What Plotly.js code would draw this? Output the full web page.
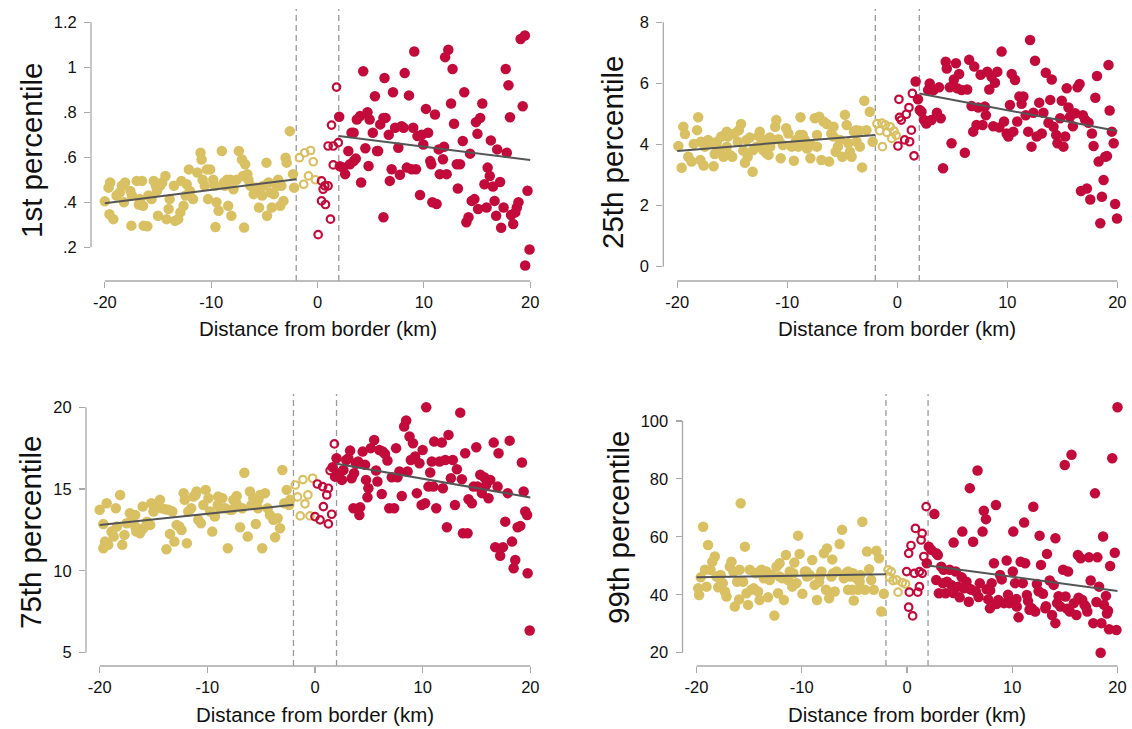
<!DOCTYPE html>
<html>
<head>
<meta charset="utf-8">
<script src="https://cdn.plot.ly/plotly-3.0.1.min.js"></script>
<style>
html,body{margin:0;padding:0;background:#fff;}
#chart{width:1132px;height:729px;}
</style>
</head>
<body>
<div id="chart"></div>
<script>
// ---------------- DATA ----------------
// Panel 1: 1st percentile
const p1GoldX = [-20,-19.65,-19.5,-19.56,-19.2,-18.9,-18.4,-18.1,-18.2,-17.5,-17.45,-17.0,-16.5,-16.8,-16.4,-16.35,-16.0,-15.9,-15.4,-15.6,-15.1,-14.8,-15.0,-14.6,-14.3,-14.0,-13.9,-14.2,-13.4,-13.1,-12.9,-12.6,-12.8,-12.3,-12.1,-11.7,-12.0,-11.3,-11.0,-10.9,-10.6,-10.4,-10.3,-10.1,-9.8,-9.5,-9.3,-9.6,-9.0,-8.8,-8.5,-8.4,-8.1,-7.9,-7.6,-7.4,-7.1,-6.8,-6.9,-6.6,-6.3,-6.0,-5.5,-5.2,-4.8,-4.75,-4.6,-4.3,-4.1,-3.8,-3.5,-3.2,-3.0,-2.9,-2.6,-2.3,-2.2,-18.6,-17.6,-16.7,-15.2,-13.5,-12.4,-10.8,-9.65,-8.7,-8.2,-7.0,-6.5,-5.7,-5.1,-4.4,-3.7,-3.4];
const p1GoldY = [.404,.465,.488,.347,.325,.43,.473,.488,.40,.296,.43,.495,.495,.39,.384,.296,.293,.43,.495,.414,.45,.473,.34,.488,.517,.37,.414,.325,.318,.325,.355,.384,.495,.48,.546,.414,.45,.532,.62,.59,.473,.546,.414,.546,.50,.40,.362,.29,.628,.488,.50,.384,.34,.458,.50,.628,.59,.569,.288,.525,.473,.436,.377,.43,.576,.34,.488,.377,.436,.473,.384,.406,.598,.576,.716,.525,.465,.443,.45,.414,.473,.473,.43,.50,.473,.473,.50,.517,.50,.465,.473,.443,.50,.473];
const p1GoldHollowX = [-1.7,-1.2,-0.65,-0.4,-0.85,-1.3,-0.2];
const p1GoldHollowY = [.598,.62,.63,.58,.517,.48,.50];
const p1RedHollowX = [1.79,1.32,1.0,1.48,1.95,1.48,0.38,0.69,1.0,0.38,0.75,1.22,0.06,0.53];
const p1RedHollowY = [.912,.743,.65,.65,.665,.566,.495,.473,.473,.406,.39,.325,.256,.458];
const p1RedX = [2.04,2.1,2.4,2.6,2.9,3.05,3.4,3.6,3.2,3.4,3.7,4.0,4.3,4.1,4.5,4.7,4.8,4.9,5.2,5.4,5.6,5.7,5.9,6.2,6.3,6.4,6.2,6.7,6.8,6.97,7.1,7.3,7.6,7.75,7.9,8.2,8.1,8.4,8.6,8.85,9.0,9.1,9.26,9.4,9.64,9.8,9.95,10.2,10.4,10.6,10.7,10.8,11.05,11.2,11.4,11.5,11.8,11.9,12.0,12.15,12.3,12.56,12.7,12.84,13.1,13.2,13.4,13.66,13.8,14.0,14.2,14.35,14.5,14.76,14.9,15.04,15.3,15.1,15.5,15.7,15.9,16.0,16.2,16.3,16.5,16.65,16.8,16.9,17.17,17.27,17.5,17.7,17.8,17.96,18.1,18.2,18.4,18.6,18.74,18.9,19.1,19.3,19.5,19.75,19.53,19.94];
const p1RedY = [.78,.56,.554,.525,.628,.569,.583,.594,.709,.709,.768,.783,.982,.488,.64,.80,.561,.768,.709,.871,.628,.628,.746,.775,.952,.775,.333,.70,.495,.547,.889,.731,.642,.522,.738,.974,.731,.554,.875,.547,.731,1.07,.547,.694,.432,.70,.657,.815,.709,.583,.569,.40,.79,.392,.635,.525,.591,.647,1.045,.525,1.078,.839,.992,.749,.569,.461,.569,.672,.889,.311,.333,.616,.406,.414,.756,.704,.775,.37,.839,.48,.377,.554,.517,.675,.47,.406,.34,.635,.49,.287,.377,.992,.62,.92,.778,.343,.303,.355,.377,.40,1.126,.827,1.141,.451,.119,.19];
const p1FitGoldX = [-20,-2], p1FitGoldY = [.396,.502];
const p1FitRedX = [2,20], p1FitRedY = [.694,.588];

// Panel 2: 25th percentile
const p2GoldX = [-19.9,-19.6,-19.45,-19.3,-19.0,-18.7,-18.5,-18.2,-18.1,-17.9,-17.6,-17.5,-17.2,-17.0,-16.7,-16.6,-16.4,-16.1,-16.0,-15.8,-15.5,-15.4,-15.2,-15.0,-14.8,-14.5,-14.4,-14.2,-14.0,-13.85,-13.6,-13.4,-13.15,-13.1,-12.8,-12.6,-12.5,-12.3,-12.0,-11.9,-11.7,-11.6,-11.3,-11.1,-11.0,-10.8,-10.6,-10.4,-10.1,-9.9,-9.6,-9.4,-9.2,-9.0,-8.8,-8.6,-8.4,-8.2,-7.9,-7.8,-7.5,-7.3,-7.1,-6.9,-6.7,-6.4,-6.2,-6.0,-5.8,-5.6,-5.4,-5.2,-5.0,-4.76,-4.6,-4.45,-4.3,-4.15,-3.94,-3.7,-3.4,-3.2,-3.0,-2.8,-2.5,-2.24,-17.85,-15.5,-13.7,-12.2,-11.55,-8.85,-7.3,-5.8,-3.75,-3.45];
const p2GoldY = [3.95,3.24,4.58,4.34,3.60,3.44,4.02,4.47,4.89,3.49,3.31,3.93,4.15,4.02,3.29,3.69,4.09,3.82,4.26,3.60,3.93,4.26,3.66,3.60,4.36,4.09,4.47,4.67,3.80,3.40,3.60,4.23,3.11,3.82,3.93,4.28,4.42,4.04,4.15,3.71,3.66,4.23,4.15,4.58,4.80,4.17,3.55,3.98,4.53,4.36,3.93,3.47,4.15,3.93,4.89,4.31,4.15,3.87,3.55,3.98,4.86,3.93,4.91,3.49,4.75,4.67,3.44,4.36,4.58,3.76,3.93,4.15,3.60,4.97,4.64,4.04,3.76,3.60,4.42,4.09,3.93,3.25,5.43,4.47,5.07,4.09,4.09,4.42,4.15,3.82,3.93,4.31,4.31,4.26,4.47,4.45];
const p2GoldHollowX = [-1.85,-1.4,-1.1,-0.65,-0.95,-0.3,-0.5,-1.35,-1.6,-0.1];
const p2GoldHollowY = [4.68,4.70,4.64,4.58,4.40,4.44,4.20,3.93,4.45,4.30];
const p2RedHollowX = [0.15,1.37,1.06,0.82,0.36,0.2,1.28,1.12,0.06,1.52,0.67];
const p2RedHollowY = [5.48,5.67,5.21,4.99,4.80,4.89,4.47,4.09,3.95,3.63,4.15];
const p2RedX = [1.67,1.88,2.04,2.2,2.43,2.64,2.8,2.95,3.1,3.3,3.6,3.8,3.95,4.16,4.4,4.5,4.77,4.93,5.14,5.33,5.44,5.62,5.84,6.14,6.35,6.53,6.75,6.9,7.0,7.2,7.36,7.57,7.75,7.96,8.05,8.18,8.36,8.57,8.72,8.88,9.09,9.27,9.48,9.7,9.94,10.1,10.24,10.4,10.55,10.7,10.9,11.1,11.3,11.46,11.67,11.9,12.07,12.2,12.37,12.52,12.67,12.9,13.13,13.28,13.5,13.74,13.9,14.04,14.2,14.44,14.56,14.8,14.95,15.1,15.26,15.4,15.56,15.7,15.96,16.17,16.38,16.57,16.7,16.87,17.08,17.23,17.39,17.54,17.69,17.84,18.0,18.15,18.3,18.45,18.6,18.75,18.9,19.06,19.2,19.3,19.5,19.67,19.8,19.97];
const p2RedY = [6.06,5.48,5.13,5.07,4.80,4.69,5.78,6.0,4.80,5.78,5.04,5.87,4.86,3.22,6.71,6.49,5.87,4.04,6.13,6.66,5.84,6.31,5.78,3.73,5.80,6.77,5.26,4.42,6.55,4.64,5.21,6.28,4.64,5.24,4.96,6.38,5.80,6.22,4.60,6.02,6.38,4.56,7.04,4.75,4.36,4.26,5.29,6.31,4.42,6.11,4.75,5.57,5.33,5.57,4.96,4.42,7.42,3.93,5.04,6.74,4.26,5.37,4.36,5.04,6.35,4.71,5.46,6.13,4.58,4.31,4.04,4.86,5.43,3.93,4.26,5.84,5.21,4.91,4.60,5.02,5.87,5.98,2.48,4.96,4.80,2.56,4.71,2.20,4.36,3.95,5.53,6.24,3.44,1.42,2.29,2.84,3.60,3.62,6.60,5.11,4.42,4.04,2.05,1.58];
const p2FitGoldX = [-20,-2], p2FitGoldY = [3.79,4.31];
const p2FitRedX = [2,20], p2FitRedY = [5.67,4.44];

// Panel 3: 75th percentile
const p3GoldX = [-20,-19.66,-19.5,-19.35,-19.66,-19.2,-18.9,-18.7,-18.5,-18.4,-18.1,-17.9,-17.7,-17.5,-17.2,-17.0,-16.7,-16.6,-16.25,-16.0,-15.94,-15.6,-15.3,-15.0,-14.86,-14.6,-14.4,-14.25,-13.9,-13.8,-13.47,-13.25,-13.06,-12.85,-12.6,-12.4,-12.2,-11.9,-11.77,-11.5,-11.3,-11.0,-10.84,-10.6,-10.37,-10.15,-9.9,-9.75,-9.54,-9.3,-9.04,-8.82,-8.6,-8.36,-8.1,-7.9,-7.58,-7.27,-6.96,-6.75,-6.56,-6.25,-6.04,-5.73,-5.5,-5.3,-5.1,-4.9,-4.64,-4.4,-4.18,-3.87,-3.7,-3.47,-3.25,-3.03,-2.85,-2.63,-2.4,-2.3,-16.7,-15.2,-13.6,-12.1,-11.1,-9.0,-7.7,-7.3,-5.9,-5.26];
const p3GoldY = [13.73,11.38,11.79,14.13,12.87,11.59,12.40,12.10,13.83,12.71,14.64,11.59,12.20,12.91,13.52,13.12,12.71,12.40,12.30,13.93,12.61,13.01,12.81,13.63,14.03,14.13,14.34,13.83,13.77,11.32,12.26,13.63,11.79,12.81,12.71,12.50,14.75,11.69,13.63,13.83,14.54,14.85,13.12,12.91,14.03,14.95,14.44,13.63,12.40,13.32,14.03,13.83,14.44,13.83,11.38,13.73,14.34,14.58,12.67,13.83,16.0,12.10,14.85,14.44,12.87,13.83,14.64,11.38,14.75,13.83,13.42,13.12,12.06,13.22,12.61,16.17,14.13,14.95,14.03,14.34,13.42,14.13,13.73,14.34,14.64,14.54,13.73,14.13,14.03,14.34];
const p3GoldHollowX = [-1.83,-1.12,-0.22,-1.62,-0.66,-0.93,-1.37,-0.47];
const p3GoldHollowY = [15.25,15.58,15.66,14.52,14.64,14.1,13.36,13.36];
const p3RedHollowX = [1.8,1.4,1.24,1.09,0.22,0.71,0.78,1.55,0.0,0.47,1.24];
const p3RedHollowY = [17.76,16.13,15.05,14.64,15.31,15.15,13.93,13.46,13.32,13.12,12.87];
const p3RedX = [1.64,1.86,2.0,2.26,2.5,2.64,2.9,3.1,3.26,3.4,3.63,3.8,4.0,3.57,4.19,4.12,4.43,4.65,4.74,4.96,4.87,5.18,5.5,5.67,5.8,5.98,6.2,6.3,6.5,6.73,6.9,7.13,7.35,7.53,7.66,7.84,8.06,8.28,8.47,8.6,8.78,8.9,9.1,9.3,9.46,9.7,9.9,10.0,10.23,10.33,10.54,10.7,10.85,11.0,11.07,11.26,11.57,11.78,11.88,12.1,12.25,12.4,12.62,12.8,13.0,13.18,13.49,13.64,13.74,13.95,14.17,14.26,14.57,14.73,14.98,15.1,15.35,15.5,15.72,15.9,16.12,16.28,16.6,16.74,16.96,17.05,17.2,17.46,17.67,17.9,18.08,18.3,18.45,18.6,18.82,19.07,19.22,19.38,19.53,19.7,19.75,19.94];
const p3RedY = [16.33,15.76,16.88,15.97,15.56,16.17,16.78,16.88,17.35,15.66,15.97,16.54,16.68,13.83,13.89,13.42,17.29,16.48,15.56,15.05,14.5,17.5,18.0,16.13,15.46,17.39,14.70,17.29,17.15,16.74,13.83,15.72,13.83,17.5,15.72,16.07,14.58,18.82,19.19,16.07,18.21,16.78,17.8,16.99,14.75,16.58,14.03,17.39,14.13,20.0,15.15,16.01,16.68,15.15,17.9,13.83,16.68,17.84,15.05,16.78,12.67,18.31,15.66,16.78,14.03,16.21,19.67,15.6,12.30,17.19,12.30,14.38,14.13,15.15,17.56,15.15,15.87,14.75,15.72,15.25,14.44,15.56,17.84,11.45,15.15,17.19,10.92,11.45,13.01,14.75,17.96,11.79,10.16,10.67,12.67,12.75,16.62,14.85,13.63,13.42,9.86,6.36];
const p3FitGoldX = [-20,-2], p3FitGoldY = [12.8,14.04];
const p3FitRedX = [2,20], p3FitRedY = [16.55,14.49];

// Panel 4: 99th percentile
const p4GoldX = [-19.84,-19.75,-19.6,-19.37,-19.2,-19.05,-18.9,-18.67,-18.5,-18.26,-18.1,-17.94,-17.7,-17.5,-17.3,-17.15,-16.84,-16.68,-16.5,-16.36,-16.14,-15.95,-15.8,-15.57,-15.4,-15.25,-15.1,-14.94,-14.8,-14.56,-14.37,-14.15,-14.0,-13.83,-13.6,-13.4,-13.2,-13.04,-12.9,-12.6,-12.4,-12.25,-12.1,-11.84,-11.7,-11.5,-11.3,-11.14,-10.9,-10.7,-10.5,-10.35,-10.2,-9.94,-9.7,-9.5,-9.24,-9.0,-8.77,-8.55,-8.35,-8.13,-7.9,-7.7,-7.6,-7.4,-7.18,-7.1,-6.87,-6.7,-6.4,-6.17,-6.0,-5.8,-5.6,-5.38,-5.2,-5.06,-4.8,-4.65,-4.43,-4.24,-4.0,-3.8,-3.6,-3.4,-3.16,-2.9,-2.66,-2.44,-2.2,-17.8,-15.9,-14.0,-13.35,-12.1,-10.8,-9.56,-8.3,-7.0,-5.6,-5.13,-4.5];
const p4GoldY = [42.2,39.9,46.0,63.5,48.6,42.8,57.2,48.6,51.4,53.2,46.3,42.6,46.8,44.0,41.1,39.4,49.7,51.4,48.0,35.9,44.5,38.4,71.6,44.5,56.6,40.5,36.5,48.6,41.7,42.2,47.4,41.1,38.2,48.6,45.7,46.8,39.1,45.1,46.8,32.8,49.7,40.5,50.9,45.7,38.2,53.7,45.1,48.0,42.8,51.1,44.0,60.4,54.1,40.3,48.0,46.3,46.8,52.0,43.4,38.2,44.5,48.0,54.3,41.7,56.0,38.8,46.3,52.2,41.1,48.0,57.5,62.4,45.7,47.4,41.7,46.3,41.7,38.0,45.7,41.7,46.8,65.2,41.7,54.9,48.8,45.1,41.7,55.2,52.6,34.2,40.3,45.7,48.6,48.0,48.0,46.3,47.4,48.0,46.3,47.4,48.0,47.4,44.5];
const p4GoldHollowX = [-1.8,-1.33,-0.85,-0.44,-1.65,-0.13,-1.0,-1.5];
const p4GoldHollowY = [48.6,44.9,40.9,44.2,46.0,43.7,45.1,48.0];
const p4RedHollowX = [1.82,0.8,1.44,1.34,0.38,0.16,1.6,-0.03,0.7,1.18,1.44,1.18,0.22,1.02,0.16,0.54];
const p4RedHollowY = [70.4,62.9,61.2,58.9,57.0,54.3,53.2,48.0,47.4,48.0,47.4,42.8,40.9,40.9,35.7,32.7];
const p4RedX = [1.88,2.07,2.3,2.6,2.78,2.93,2.78,3.03,3.25,3.48,3.67,3.8,4.05,4.2,4.43,4.63,4.85,5.0,5.26,5.4,5.65,5.87,5.97,6.12,6.28,6.54,6.7,6.92,7.18,7.3,7.5,7.56,7.72,7.88,8.04,8.26,8.45,8.68,8.84,9.0,9.22,9.47,9.73,10.05,10.1,10.27,10.43,10.6,10.8,11.0,11.13,11.23,11.39,11.64,11.87,12.0,12.18,12.34,12.6,12.73,12.92,13.14,13.3,13.56,13.78,13.94,14.1,14.1,14.26,14.58,14.83,14.99,15.06,15.3,15.47,15.63,15.85,16.1,16.24,16.5,16.65,16.87,17.13,17.29,17.45,17.7,17.86,18.09,18.25,18.4,18.47,18.63,18.72,18.9,19.1,19.2,19.3,19.5,19.74,19.9,20.0,3.4,4.4,5.2,6.0,6.8,7.9,8.5,9.6,10.4,11.5,12.5,13.2,14.4,15.2,16.3,17.0,18.0,19.0];
const p4RedY = [50.9,56.6,55.5,67.9,54.3,53.7,45.1,40.5,49.7,48.6,40.5,44.5,48.6,43.4,58.0,48.0,42.8,39.1,61.8,42.2,44.5,37.6,76.8,41.7,58.3,41.1,82.9,44.0,61.8,69.0,66.1,41.9,38.4,35.3,44.0,50.9,71.0,38.2,46.8,45.3,37.1,51.8,37.1,48.0,61.8,44.0,35.9,32.2,51.4,44.0,64.9,50.9,39.9,34.8,35.3,70.4,34.2,43.7,60.4,50.3,40.3,35.3,54.1,44.9,33.0,43.4,59.5,30.2,37.1,35.9,48.6,84.8,39.4,48.0,34.2,88.3,37.1,33.0,53.7,52.6,38.2,36.5,34.2,52.9,44.9,30.2,75.0,52.9,42.8,20.0,30.2,60.1,36.5,39.6,34.5,28.1,49.9,87.1,54.5,27.8,104.7,44.0,40.6,46.0,42.0,39.2,41.5,36.8,40.0,38.5,37.8,41.2,36.0,39.5,35.2,39.0,35.8,37.5,33.5];
const p4FitGoldX = [-20,-2], p4FitGoldY = [46.0,47.1];
const p4FitRedX = [2,20], p4FitRedY = [50.1,41.3];

// Axis ticks and titles
const xTickVals = [-20,-10,0,10,20];
const xTickText = ['-20','-10','0','10','20'];
const xTitle = 'Distance from border (km)';
const p1YTickVals = [0.2,0.4,0.6,0.8,1.0,1.2];
const p1YTickText = ['.2','.4','.6','.8','1','1.2'];
const p2YTickVals = [0,2,4,6,8];
const p3YTickVals = [5,10,15,20];
const p4YTickVals = [20,40,60,80,100];
const yTitles = ['1st percentile','25th percentile','75th percentile','99th percentile'];

// ---------------- STYLE ----------------
const W = 1132, H = 729;
const GOLD = '#d9c063';
const RED = '#c20b3a';
const FIT = '#555555';
const AXC = '#a8a8a8';
const FONT = 'Liberation Sans, Arial, Helvetica, sans-serif';
const px = v => v / W;
const py = v => 1 - v / H;

const panels = [
  {gx:p1GoldX, gy:p1GoldY, ghx:p1GoldHollowX, ghy:p1GoldHollowY, rhx:p1RedHollowX, rhy:p1RedHollowY, rx:p1RedX, ry:p1RedY,
   fgx:p1FitGoldX, fgy:p1FitGoldY, frx:p1FitRedX, fry:p1FitRedY,
   xd:[91,544], yd:[9,281], xr:[-21.3,21.3], yr:[0.05,1.259], ytv:p1YTickVals, ytt:p1YTickText, titleXY:[31,151], xtY:328},
  {gx:p2GoldX, gy:p2GoldY, ghx:p2GoldHollowX, ghy:p2GoldHollowY, rhx:p2RedHollowX, rhy:p2RedHollowY, rx:p2RedX, ry:p2RedY,
   fgx:p2FitGoldX, fgy:p2FitGoldY, frx:p2FitRedX, fry:p2FitRedY,
   xd:[663.3,1131.3], yd:[9,281], xr:[-21.27,21.27], yr:[-0.468,8.435], ytv:p2YTickVals, ytt:null, titleXY:[613,152], xtY:328},
  {gx:p3GoldX, gy:p3GoldY, ghx:p3GoldHollowX, ghy:p3GoldHollowY, rhx:p3RedHollowX, rhy:p3RedHollowY, rx:p3RedX, ry:p3RedY,
   fgx:p3FitGoldX, fgy:p3FitGoldY, frx:p3FitRedX, fry:p3FitRedY,
   xd:[86,544], yd:[394,666], xr:[-21.27,21.27], yr:[4.187,20.81], ytv:p3YTickVals, ytt:null, titleXY:[30,532], xtY:714},
  {gx:p4GoldX, gy:p4GoldY, ghx:p4GoldHollowX, ghy:p4GoldHollowY, rhx:p4RedHollowX, rhy:p4RedHollowY, rx:p4RedX, ry:p4RedY,
   fgx:p4FitGoldX, fgy:p4FitGoldY, frx:p4FitRedX, fry:p4FitRedY,
   xd:[682.5,1131.5], yd:[394,666], xr:[-21.33,21.33], yr:[15.4,109.3], ytv:p4YTickVals, ytt:null, titleXY:[618,527], xtY:714}
];

const traces = [];
const layout = {
  width: W, height: H,
  margin: {l:0, r:0, t:0, b:0},
  paper_bgcolor: '#fff', plot_bgcolor: '#fff',
  showlegend: false,
  font: {family: FONT, color: '#111', size: 16},
  shapes: [], annotations: []
};

panels.forEach((p, i) => {
  const n = i + 1;
  const xa = 'x' + (n === 1 ? '' : n), ya = 'y' + (n === 1 ? '' : n);
  const xk = 'xaxis' + (n === 1 ? '' : n), yk = 'yaxis' + (n === 1 ? '' : n);
  const common = {xaxis: xa, yaxis: ya, hoverinfo: 'skip', cliponaxis: false};
  traces.push(Object.assign({type:'scatter', mode:'markers', x:p.gx, y:p.gy,
    marker:{color:GOLD, size:10.5, line:{width:0}}}, common));
  traces.push(Object.assign({type:'scatter', mode:'markers', x:p.rx, y:p.ry,
    marker:{color:RED, size:10.5, line:{width:0}}}, common));
  traces.push(Object.assign({type:'scatter', mode:'markers', x:p.ghx, y:p.ghy,
    marker:{color:GOLD, size:7.5, symbol:'circle-open', line:{width:2.2, color:GOLD}}}, common));
  traces.push(Object.assign({type:'scatter', mode:'markers', x:p.rhx, y:p.rhy,
    marker:{color:RED, size:7.5, symbol:'circle-open', line:{width:2.2, color:RED}}}, common));
  traces.push(Object.assign({type:'scatter', mode:'lines', x:p.fgx, y:p.fgy,
    line:{color:FIT, width:2}}, common));
  traces.push(Object.assign({type:'scatter', mode:'lines', x:p.frx, y:p.fry,
    line:{color:FIT, width:2}}, common));

  layout[xk] = {
    domain:[px(p.xd[0]), px(p.xd[1])], range:p.xr, anchor:ya,
    tickmode:'array', tickvals:xTickVals, ticktext:xTickText,
    ticks:'outside', ticklen:6, tickwidth:1.2, tickcolor:AXC,
    showline:false, showgrid:false, zeroline:false, fixedrange:true, automargin:false,
    tickfont:{size:16.5, family:FONT, color:'#111'}
  };
  const yax = {
    domain:[py(p.yd[1]), py(p.yd[0])], range:p.yr, anchor:xa,
    tickmode:'array', tickvals:p.ytv,
    ticks:'outside', ticklen:6, tickwidth:1.2, tickcolor:AXC,
    showline:false, showgrid:false, zeroline:false, fixedrange:true, automargin:false,
    tickfont:{size:16.5, family:FONT, color:'#111'}, ticklabelstandoff:4
  };
  if (p.ytt) yax.ticktext = p.ytt;
  layout[yk] = yax;

  // axis lines spanning the tick range only
  layout.shapes.push({type:'line', xref:xa, yref:ya + ' domain',
    x0:xTickVals[0], x1:xTickVals[xTickVals.length-1], y0:0, y1:0,
    line:{color:AXC, width:1.3}});
  layout.shapes.push({type:'line', xref:xa + ' domain', yref:ya,
    x0:0, x1:0, y0:p.ytv[0], y1:p.ytv[p.ytv.length-1],
    line:{color:AXC, width:1.3}});
  // dashed reference lines at -2 and 2 km
  [-2, 2].forEach(v => layout.shapes.push({type:'line', xref:xa, yref:ya + ' domain',
    x0:v, x1:v, y0:0, y1:1, line:{color:'#9a9a9a', width:1.3, dash:'6px,4px'}, layer:'below'}));

  // titles
  layout.annotations.push({text:yTitles[i], xref:'paper', yref:'paper',
    x:px(p.titleXY[0]), y:py(p.titleXY[1]), xanchor:'center', yanchor:'middle',
    textangle:-90, showarrow:false, font:{size:29.5, family:FONT, color:'#111'}});
  layout.annotations.push({text:xTitle, xref:xa, yref:'paper',
    x:0, y:py(p.xtY), xanchor:'center', yanchor:'middle',
    showarrow:false, font:{size:20.5, family:FONT, color:'#111'}});
});

Plotly.newPlot('chart', traces, layout, {displayModeBar:false, staticPlot:true});
</script>
</body>
</html>
